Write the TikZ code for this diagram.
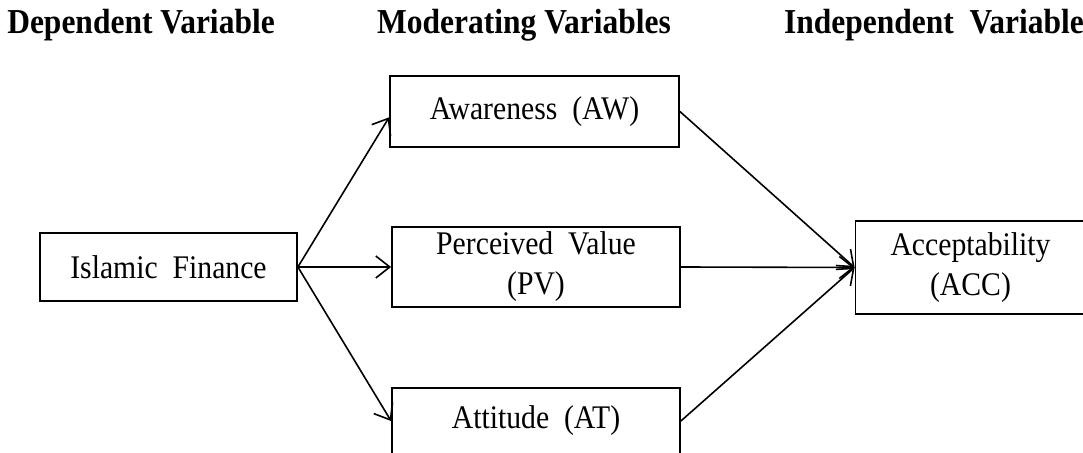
\documentclass[tikz,border=0pt]{standalone}
\usepackage{fontspec}
\setmainfont{Liberation Serif}
\usetikzlibrary{arrows.meta,calc}
\begin{document}
\begin{tikzpicture}[x=0.5pt,y=-0.5pt,
  box/.style={draw,line width=0.9pt,inner sep=0pt,align=center,
    font=\fontsize{16.5}{20}\selectfont},
  head/.style={inner sep=0pt,font=\fontsize{17.5}{20}\selectfont\bfseries},
  arr/.style={line width=0.8pt,-{Straight Barb[length=7pt,width=11pt]}}]
\useasboundingbox (0,0) rectangle (1083,453);
\node[head] (h1) at (141,25) {\scalebox{0.9}[1]{Dependent Variable}};
\node[head] (h2) at (524,25) {\scalebox{0.9}[1]{Moderating Variables}};
\node[head] (h3) at (934,25) {\scalebox{0.9}[1]{Independent\ \ Variable}};
\node[box,minimum width=128.5pt,minimum height=34pt] (if) at (168.5,267)
  {\scalebox{0.9}[1]{Islamic\ \ Finance}};
\node[box,minimum width=144.5pt,minimum height=35.5pt] (aw) at (534.5,111.5)
  {\scalebox{0.9}[1]{Awareness\ \ (AW)}};
\node[box,minimum width=144pt,minimum height=40pt] (pv) at (536,267)
  {\scalebox{0.9}[1]{Perceived\ \ Value}\\\scalebox{0.9}[1]{(PV)}};
\node[box,minimum width=144pt,minimum height=33pt] (at) at (536,421)
  {\scalebox{0.9}[1]{Attitude\ \ (AT)}};
\node[box,minimum width=115pt,minimum height=46.5pt] (acc) at (970.5,267.5)
  {\scalebox{0.9}[1]{Acceptability}\\\scalebox{0.9}[1]{(ACC)}};
\draw[arr] (if.east) -- ($(aw.south west)!0.42!(aw.north west)$);
\draw[arr] (if.east) -- (pv.west);
\draw[arr] (if.east) -- (at.west);
\draw[arr] (aw.east) -- (acc.west);
\draw[arr] (pv.east) -- (acc.west);
\draw[arr] (at.east) -- (acc.west);
\end{tikzpicture}
\end{document}
